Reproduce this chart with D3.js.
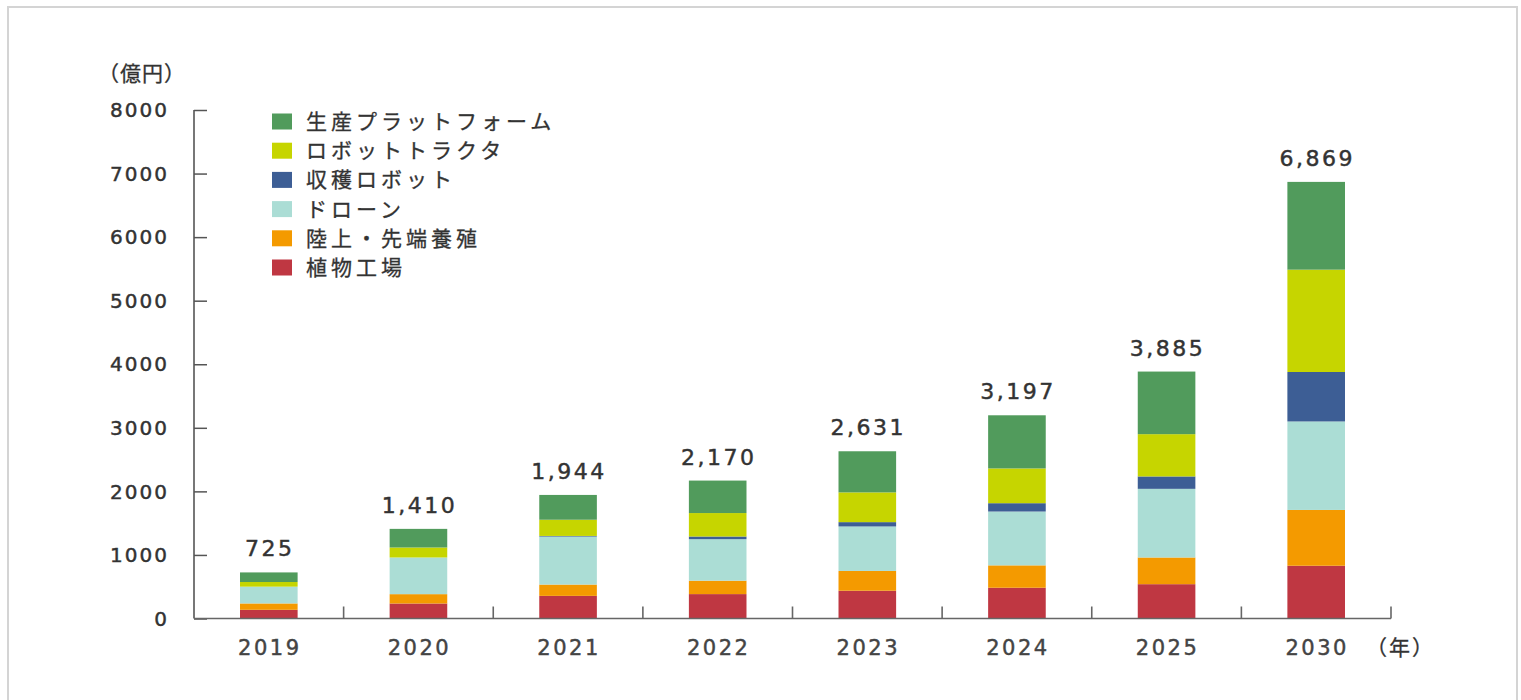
<!DOCTYPE html>
<html lang="ja">
<head>
<meta charset="utf-8">
<script src="https://cdn.jsdelivr.net/npm/d3@7"></script>
<style>
  html, body { margin: 0; padding: 0; background: #fff; }
  svg { display: block; }
  .num { font-family: "DejaVu Sans", "Noto Sans", sans-serif; fill: #333; stroke: #333; stroke-width: 0.45px; }
  .jp { font-family: "Noto Sans CJK JP", sans-serif; fill: #333; stroke: #333; stroke-width: 0.3px; }
</style>
</head>
<body>
<svg id="chart" width="1521" height="700"></svg>
<script>
// 年ごとのスマート農業市場規模（億円）
const years = ["2019", "2020", "2021", "2022", "2023", "2024", "2025", "2030"];
const totals = [725, 1410, 1944, 2170, 2631, 3197, 3885, 6869];

// 系列（下から積み上げ順）
const plantFactory = [137, 236, 356, 384, 437, 484, 540, 830];   // 植物工場
const aquaculture  = [100, 147, 178, 211, 311, 352, 420, 878];   // 陸上・先端養殖
const drone        = [264, 577, 755, 653, 700, 847, 1080, 1392]; // ドローン
const harvestRobot = [0, 0, 10, 42, 68, 131, 195, 778];          // 収穫ロボット
const robotTractor = [73, 157, 255, 369, 468, 547, 665, 1610];   // ロボットトラクタ
const platform     = [151, 293, 390, 511, 647, 836, 985, 1381];  // 生産プラットフォーム

const seriesNames = ["植物工場", "陸上・先端養殖", "ドローン", "収穫ロボット", "ロボットトラクタ", "生産プラットフォーム"];
const seriesValues = [plantFactory, aquaculture, drone, harvestRobot, robotTractor, platform];
const seriesColors = ["#bf3742", "#f49a00", "#abddd5", "#3d5e95", "#c6d500", "#519b5c"];

const yTicks = [0, 1000, 2000, 3000, 4000, 5000, 6000, 7000, 8000];

const svg = d3.select("#chart");

// 外枠
svg.append("rect")
  .attr("x", 8).attr("y", 7)
  .attr("width", 1509).attr("height", 720)
  .attr("fill", "none")
  .attr("stroke", "#d4d4d4")
  .attr("stroke-width", 2);

const plotLeft = 194, plotRight = 1391, plotTop = 110, plotBottom = 618.5;

const x = d3.scaleBand().domain(years).range([plotLeft, plotRight]).paddingInner(0).paddingOuter(0);
const y = d3.scaleLinear().domain([0, 8000]).range([plotBottom, plotTop]);

// 積み上げ用の表
const table = years.map((yr, i) => {
  const row = { year: yr };
  seriesNames.forEach((n, k) => { row[n] = seriesValues[k][i]; });
  return row;
});
const stacked = d3.stack().keys(seriesNames)(table);
const color = d3.scaleOrdinal().domain(seriesNames).range(seriesColors);

const barW = x.bandwidth() * 0.385;

svg.append("g")
  .selectAll("g")
  .data(stacked)
  .join("g")
  .attr("fill", d => color(d.key))
  .selectAll("rect")
  .data(d => d)
  .join("rect")
  .attr("x", d => x(d.data.year) + (x.bandwidth() - barW) / 2)
  .attr("y", d => y(d[1]))
  .attr("width", barW)
  .attr("height", d => Math.max(0, y(d[0]) - y(d[1])));

// Y軸
const yAxis = svg.append("g").attr("transform", `translate(${plotLeft},0)`)
  .call(d3.axisRight(y).tickValues(yTicks).tickSize(13).tickFormat(""));
yAxis.select(".domain").attr("stroke", "#555").attr("stroke-width", 1.6).attr("d", `M0,${plotTop}V${plotBottom}`);
yAxis.selectAll(".tick line").attr("stroke", "#555").attr("stroke-width", 1.5);

svg.append("g")
  .selectAll("text")
  .data(yTicks)
  .join("text")
  .attr("class", "num")
  .attr("x", 169)
  .attr("y", d => y(d))
  .attr("dy", "0.36em")
  .attr("text-anchor", "end")
  .style("font-size", "20px")
  .style("letter-spacing", "2px")
  .text(d => d);

// X軸
const xAxis = svg.append("g").attr("transform", `translate(0,${plotBottom})`);
xAxis.append("line")
  .attr("x1", plotLeft).attr("x2", plotRight)
  .attr("stroke", "#666").attr("stroke-width", 1.6);
const boundaries = years.slice(1).map(yr => x(yr)).concat([plotRight]);
xAxis.selectAll("line.tk")
  .data(boundaries)
  .join("line")
  .attr("class", "tk")
  .attr("x1", d => d).attr("x2", d => d)
  .attr("y1", 0).attr("y2", -12)
  .attr("stroke", "#666").attr("stroke-width", 1.6);

svg.append("g")
  .selectAll("text")
  .data(years)
  .join("text")
  .attr("class", "num")
  .attr("x", d => x(d) + x.bandwidth() / 2 + 1)
  .attr("y", 655)
  .attr("text-anchor", "middle")
  .style("font-size", "21px")
  .style("letter-spacing", "2.5px")
  .style("fill", "#444")
  .style("stroke", "#444")
  .text(d => d);

// 合計ラベル
svg.append("g")
  .selectAll("text")
  .data(years)
  .join("text")
  .attr("class", "num")
  .attr("x", (d, i) => x(d) + x.bandwidth() / 2 + 1)
  .attr("y", (d, i) => y(totals[i]) - 16)
  .attr("text-anchor", "middle")
  .style("font-size", "22px")
  .style("letter-spacing", "2.5px")
  .text((d, i) => d3.format(",")(totals[i]));

// 単位
svg.append("text").attr("class", "jp")
  .attr("x", 98).attr("y", 81)
  .style("font-size", "21px")
  .style("letter-spacing", "1px")
  .text("（億円）");

svg.append("text").attr("class", "jp")
  .attr("x", 1366).attr("y", 655)
  .style("font-size", "21px")
  .style("letter-spacing", "2px")
  .text("（年）");

// 凡例（上から生産プラットフォーム）
const legendOrder = seriesNames.slice().reverse();
const legend = svg.append("g");
const lg = legend.selectAll("g")
  .data(legendOrder)
  .join("g")
  .attr("transform", (d, i) => `translate(272,${121.5 + i * 29.2})`);
lg.append("rect")
  .attr("x", 0).attr("y", -8)
  .attr("width", 20).attr("height", 16)
  .attr("fill", d => color(d));
lg.append("text")
  .attr("class", "jp")
  .attr("x", 34).attr("y", 0)
  .attr("dy", "0.36em")
  .style("font-size", "21px")
  .style("letter-spacing", "4px")
  .text(d => d);
</script>
</body>
</html>
